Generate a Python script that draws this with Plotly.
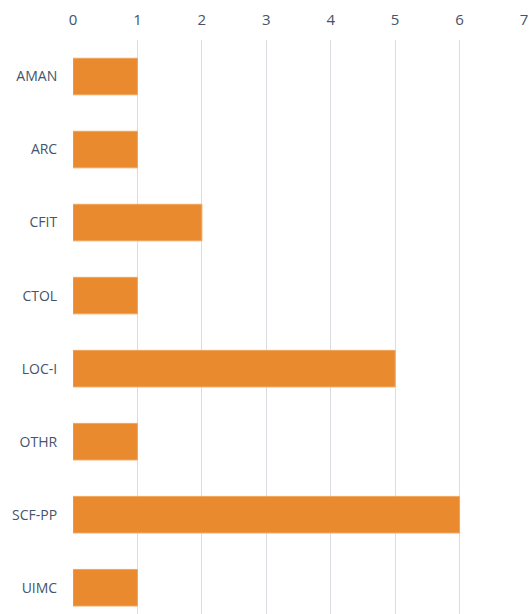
import plotly.graph_objects as go

categories = ["AMAN", "ARC", "CFIT", "CTOL", "LOC-I", "OTHR", "SCF-PP", "UIMC"]
values = [1, 1, 2, 1, 5, 1, 6, 1]
x_ticks = [0, 1, 2, 3, 4, 5, 6, 7]

fig = go.Figure(go.Bar(
    x=values, y=categories, orientation="h",
    marker=dict(color="#E98A2F", line=dict(color="#F0A55E", width=1)),
    width=0.5,
))

fig.update_layout(
    width=531, height=614,
    margin=dict(l=73, r=7, t=40, b=0),
    paper_bgcolor="white", plot_bgcolor="white",
    font=dict(family="Open Sans", color="#44546A"),
    showlegend=False,
    bargap=0.5,
)
fig.update_xaxes(
    side="top", range=[0, 7], tickvals=x_ticks,
    showgrid=True, gridcolor="#D9DDE3", gridwidth=1,
    zeroline=False, showline=False,
    tickfont=dict(size=15, color="#44546A"),
    ticks="outside", ticklen=8, tickcolor="rgba(0,0,0,0)",
)
fig.update_yaxes(
    range=[7.36, -0.5], showgrid=False, zeroline=False, showline=False,
    tickfont=dict(size=14, color="#44546A"),
    ticks="outside", ticklen=12, tickcolor="rgba(0,0,0,0)",
)

fig.write_html("out.html")
